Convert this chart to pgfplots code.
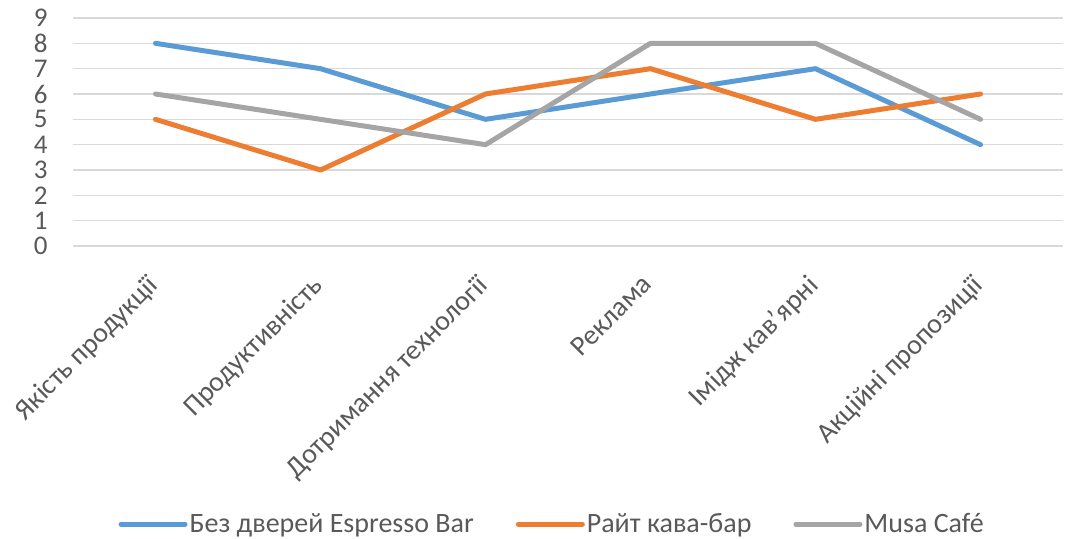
\documentclass[border=0pt]{standalone}
\usepackage{fontspec}
\setmainfont{Carlito}
\usepackage{pgfplots}
\pgfplotsset{compat=1.18}

\definecolor{cblue}{HTML}{5B9BD5}
\definecolor{corange}{HTML}{ED7D31}
\definecolor{cgray}{HTML}{A5A5A5}
\definecolor{ctext}{HTML}{595959}
\definecolor{cgrid}{HTML}{D9D9D9}

\begin{document}
\begin{tikzpicture}
% 1 px of the reference = 0.5pt
\useasboundingbox (-36.5pt,-146.5pt) rectangle (496pt,123pt);
\begin{axis}[
    at={(0,0)}, anchor=south west,
    scale only axis,
    width=495pt, height=114pt,
    xmin=-0.5, xmax=5.5,
    ymin=0, ymax=9,
    ytick={0,...,9},
    xtick={0,...,5},
    xticklabels={Якість продукції, Продуктивність, Дотримання технології, Реклама, Імідж кав’ярні, Акційні пропозиції},
    axis line style={draw=none},
    major tick length=0pt,
    ymajorgrids,
    major grid style={cgrid, line width=0.8pt},
    tick label style={text=ctext},
    /pgf/number format/assume math mode=true,
    yticklabel style={font=\fontsize{13.5}{14}\selectfont, anchor=east, inner sep=0pt, xshift=-12.5pt},
    % shifts act in the rotated frame
    xticklabel style={font=\fontsize{14}{15}\selectfont, rotate=45, anchor=north east, inner sep=0pt, xshift=-13pt, yshift=-6pt},
    legend columns=3,
    legend style={draw=none, fill=none, at={(0.484,-1.22)}, anchor=center,
        font=\fontsize{14}{15}\selectfont, text=ctext,
        nodes={inner sep=1pt},
        /tikz/every even column/.append style={column sep=20pt}},
    legend image code/.code={\draw[#1, line width=2.5pt] (0pt,0pt) -- (32pt,0pt);},
    every axis plot/.append style={line width=2.5pt, line join=round, line cap=round, mark=none},
]
\addplot[cblue] coordinates {(0,8) (1,7) (2,5) (3,6) (4,7) (5,4)};
\addlegendentry{Без дверей Espresso Bar}
\addplot[corange] coordinates {(0,5) (1,3) (2,6) (3,7) (4,5) (5,6)};
\addlegendentry{Райт кава-бар}
\addplot[cgray] coordinates {(0,6) (1,5) (2,4) (3,8) (4,8) (5,5)};
\addlegendentry{Musa Café}
\end{axis}
\end{tikzpicture}
\end{document}
